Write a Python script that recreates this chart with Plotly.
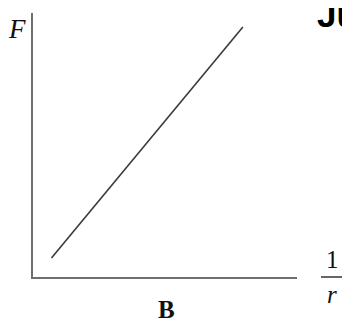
import plotly.graph_objects as go

# Data: F versus 1/r (straight line through the graph)
inv_r = [0.07, 0.795]
force = [0.072, 0.947]

# Text labels
y_label = "F"
x_label_num = "1"
x_label_den = "r"
caption = "B"
corner_text = "Ju"

# The page body has an 8px default margin; compensate so the plot lands
# where it sits in the reference screenshot.
OFF = 8
W, H = 350, 322
# plot area in screenshot pixels: x 33..297, y 13..277
L, T = 33 - OFF, 13 - OFF
R, B = W - (297 - OFF), H - (277 - OFF)
pw, ph = W - L - R, H - T - B

def px(x):
    return (x - OFF - L) / pw

def py(y):
    return (H - B - (y - OFF)) / ph

serif = "Liberation Serif, Times New Roman, serif"
sans = "Liberation Sans, Arial, sans-serif"

fig = go.Figure()
fig.add_trace(go.Scatter(x=inv_r, y=force, mode="lines",
                         line=dict(color="#3a3a3a", width=1.6),
                         hoverinfo="skip", showlegend=False))

axis_common = dict(range=[0, 1], showgrid=False, zeroline=False, showticklabels=False,
                   ticks="", showline=True, linecolor="#6e6e6e", linewidth=2.2, mirror=False)
fig.update_xaxes(**axis_common)
fig.update_yaxes(**axis_common)

ann = []
ann.append(dict(text="<i>" + y_label + "</i>", x=px(17), y=py(29), xref="paper", yref="paper",
                showarrow=False, xanchor="center", yanchor="middle",
                font=dict(family=serif, size=27, color="#111")))
ann.append(dict(text="<b>" + corner_text + "</b>", x=px(315), y=py(14), xref="paper", yref="paper",
                showarrow=False, xanchor="left", yanchor="middle",
                font=dict(family=sans, size=35, color="#000")))
ann.append(dict(text=x_label_num, x=px(332.5), y=py(259), xref="paper", yref="paper",
                showarrow=False, xanchor="center", yanchor="middle",
                font=dict(family=serif, size=25, color="#111")))
ann.append(dict(text="<i>" + x_label_den + "</i>", x=px(332), y=py(294), xref="paper", yref="paper",
                showarrow=False, xanchor="center", yanchor="middle",
                font=dict(family=serif, size=25, color="#111")))
ann.append(dict(text="<b>" + caption + "</b>", x=px(166.5), y=py(309), xref="paper", yref="paper",
                showarrow=False, xanchor="center", yanchor="middle",
                font=dict(family=serif, size=25, color="#111")))
fig.update_layout(annotations=ann)

fig.add_shape(type="line", xref="paper", yref="paper",
              x0=px(321), x1=px(360), y0=py(277), y1=py(277),
              line=dict(color="#333", width=1.4))

fig.update_layout(width=W, height=H, margin=dict(l=L, r=R, t=T, b=B),
                  paper_bgcolor="white", plot_bgcolor="white")

fig.write_html("out.html", config={"displayModeBar": False})
